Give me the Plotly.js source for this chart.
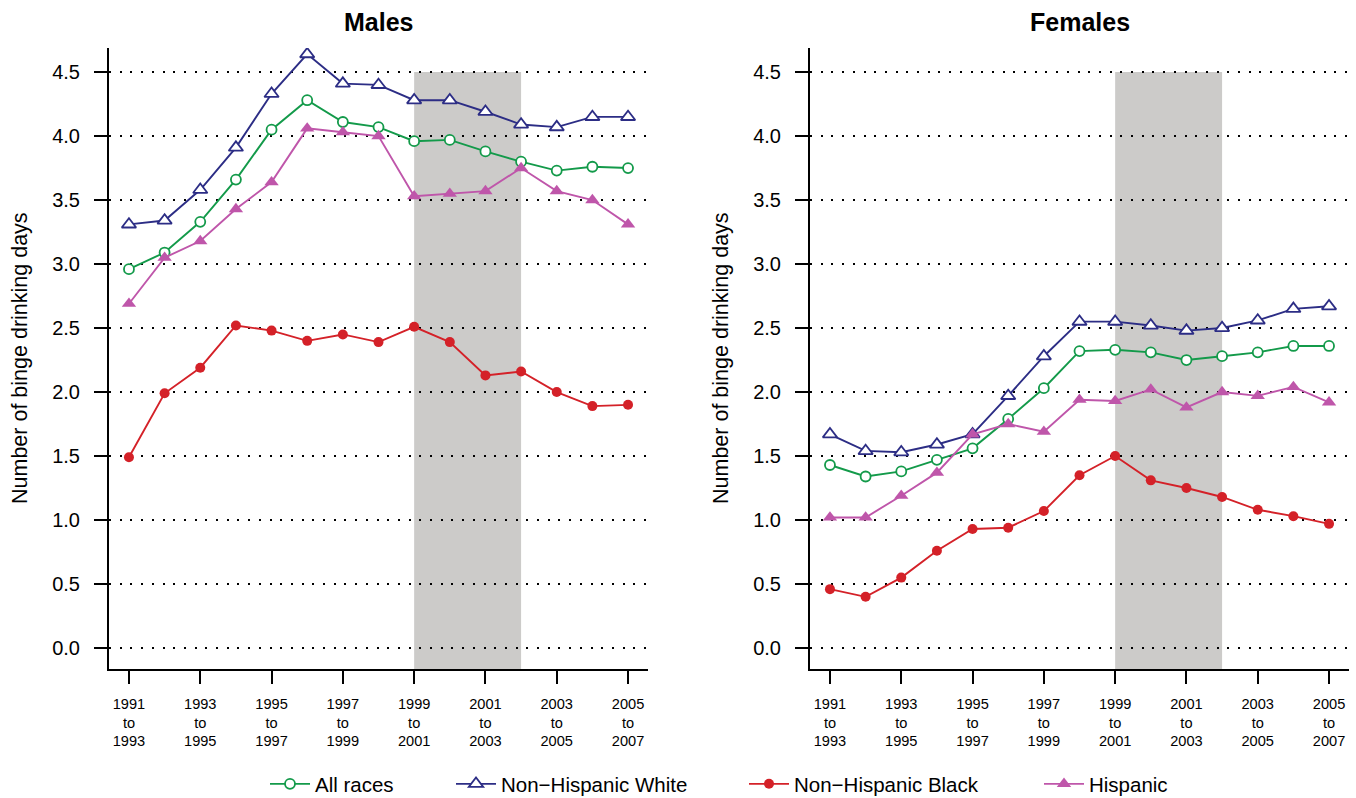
<!DOCTYPE html>
<html>
<head>
<meta charset="utf-8">
<script src="https://cdn.plot.ly/plotly-3.0.1.min.js"></script>
<style>
  html, body { margin: 0; padding: 0; background: #ffffff; }
  #chart { width: 1356px; height: 798px; }
</style>
</head>
<body>
<div id="chart"></div>
<script>
// ---- Data ----
const periods = ['1991 to 1993','1992 to 1994','1993 to 1995','1994 to 1996','1995 to 1997',
                 '1996 to 1998','1997 to 1999','1998 to 2000','1999 to 2001','2000 to 2002',
                 '2001 to 2003','2002 to 2004','2003 to 2005','2004 to 2006','2005 to 2007'];

const seriesNames = ['All races', 'Non\u2212Hispanic White', 'Non\u2212Hispanic Black', 'Hispanic'];

const malesAll   = [2.96, 3.09, 3.33, 3.66, 4.05, 4.28, 4.11, 4.07, 3.96, 3.97, 3.88, 3.80, 3.73, 3.76, 3.75];
const malesWhite = [3.31, 3.34, 3.58, 3.91, 4.33, 4.64, 4.41, 4.40, 4.28, 4.28, 4.19, 4.09, 4.07, 4.15, 4.15];
const malesBlack = [1.49, 1.99, 2.19, 2.52, 2.48, 2.40, 2.45, 2.39, 2.51, 2.39, 2.13, 2.16, 2.00, 1.89, 1.90];
const malesHisp  = [2.69, 3.05, 3.18, 3.43, 3.64, 4.06, 4.03, 4.00, 3.53, 3.55, 3.57, 3.75, 3.57, 3.50, 3.31];

const femalesAll   = [1.43, 1.34, 1.38, 1.47, 1.56, 1.79, 2.03, 2.32, 2.33, 2.31, 2.25, 2.28, 2.31, 2.36, 2.36];
const femalesWhite = [1.67, 1.54, 1.53, 1.59, 1.67, 1.97, 2.28, 2.55, 2.55, 2.52, 2.48, 2.50, 2.56, 2.65, 2.67];
const femalesBlack = [0.46, 0.40, 0.55, 0.76, 0.93, 0.94, 1.07, 1.35, 1.50, 1.31, 1.25, 1.18, 1.08, 1.03, 0.97];
const femalesHisp  = [1.02, 1.02, 1.19, 1.37, 1.67, 1.75, 1.69, 1.94, 1.93, 2.02, 1.88, 2.00, 1.97, 2.04, 1.92];

const panelTitles = ['Males', 'Females'];
const yTitle = 'Number of binge drinking days';
const shadeStart = '1999 to 2001';
const shadeEnd   = '2002 to 2004';
const shadeTop = 4.5;

// ---- Styling ----
const FONT = 'Liberation Sans, Arial, Helvetica, sans-serif';
const W = 1356, H = 798;
const colors = ['#139a4a', '#2c2d85', '#d42128', '#bf56aa'];
const symbols = ['circle', 'triangle-up', 'circle', 'triangle-up'];
const hollow = [true, true, false, false];
const msizes = [10, 12.5, 10, 12.5];

const tickVals = periods.filter((p, i) => i % 2 === 0);
const tickText = tickVals.map(p => p.split(' ').join('<br>'));

const panels = [
  { data: [malesAll, malesWhite, malesBlack, malesHisp], xa: 'x', ya: 'y', left: 109, right: 648 },
  { data: [femalesAll, femalesWhite, femalesBlack, femalesHisp], xa: 'x2', ya: 'y2', left: 810, right: 1349 }
];
const plotTop = 48, plotBottom = 669;
const legendNames = ['legend', 'legend2', 'legend3', 'legend4'];

const traces = [];
panels.forEach((p, pi) => {
  p.data.forEach((vals, si) => {
    traces.push({
      type: 'scatter', mode: 'lines+markers',
      x: periods, y: vals, xaxis: p.xa, yaxis: p.ya,
      name: seriesNames[si],
      legend: legendNames[si],
      showlegend: pi === 0,
      line: { color: colors[si], width: 1.9 },
      marker: { symbol: symbols[si], size: msizes[si], color: hollow[si] ? '#ffffff' : colors[si],
                line: { color: colors[si], width: hollow[si] ? 1.8 : 0 } },
      hoverinfo: 'x+y'
    });
  });
});

function xAxis(p) {
  return {
    type: 'category', domain: [p.left / W, p.right / W], range: [-0.56, 14.56],
    showline: true, linecolor: '#000', linewidth: 2, mirror: false,
    ticks: 'outside', ticklen: 13, tickwidth: 2, tickcolor: '#000',
    tickmode: 'array', tickvals: tickVals, ticktext: tickText,
    tickfont: { family: FONT, size: 14.6, color: '#000' }, tickangle: 0,
    ticklabelstandoff: 7, automargin: false,
    showgrid: false, zeroline: false, fixedrange: true
  };
}
function yAxis(xa) {
  return {
    domain: [1 - plotBottom / H, 1 - plotTop / H], range: [-0.164, 4.688], anchor: xa,
    showline: true, linecolor: '#000', linewidth: 2,
    ticks: 'outside', ticklen: 13, tickwidth: 2, tickcolor: '#000',
    tickmode: 'linear', tick0: 0, dtick: 0.5, tickformat: '.1f',
    tickfont: { family: FONT, size: 20, color: '#000' },
    ticklabelstandoff: 10, automargin: false,
    showgrid: true, gridcolor: '#000', gridwidth: 1.3, griddash: '2px,8.7px',
    zeroline: false, fixedrange: true
  };
}

const annotations = [];
panels.forEach((p, pi) => {
  annotations.push({
    xref: 'paper', yref: 'paper', x: (p.left + p.right) / 2 / W, y: 1 - 22 / H,
    text: '<b>' + panelTitles[pi] + '</b>', showarrow: false,
    font: { family: FONT, size: 25, color: '#000' }, xanchor: 'center', yanchor: 'middle'
  });
  annotations.push({
    xref: 'paper', yref: 'paper', x: (p.left - 89) / W, y: 1 - 358 / H,
    text: yTitle, textangle: -90, showarrow: false,
    font: { family: FONT, size: 21.5, color: '#000' }, xanchor: 'center', yanchor: 'middle'
  });
});

const shapes = panels.map(p => ({
  type: 'rect', xref: p.xa, yref: p.ya, x0: shadeStart, x1: shadeEnd, y0: -0.164, y1: shadeTop,
  fillcolor: '#cccbc9', line: { width: 0 }, layer: 'below'
}));

const legendX = [256, 442, 735, 1030];
const legendCommon = {
  orientation: 'h', xref: 'container', yref: 'container',
  xanchor: 'left', yanchor: 'middle', y: 1 - 784 / H,
  font: { family: FONT, size: 20.5, color: '#000' }, bgcolor: 'rgba(0,0,0,0)',
  borderwidth: 0, itemwidth: 40, itemclick: false, itemdoubleclick: false
};

const layout = {
  width: W, height: H,
  margin: { l: 0, r: 0, t: 0, b: 0, autoexpand: false },
  paper_bgcolor: '#ffffff', plot_bgcolor: '#ffffff',
  font: { family: FONT, color: '#000' },
  xaxis: xAxis(panels[0]), yaxis: yAxis('x'),
  xaxis2: xAxis(panels[1]), yaxis2: yAxis('x2'),
  annotations: annotations,
  shapes: shapes
};
legendNames.forEach((ln, i) => {
  layout[ln] = Object.assign({}, legendCommon, { x: (legendX[i] + 9) / W });
});

Plotly.newPlot('chart', traces, layout, { displayModeBar: false, staticPlot: true });
</script>
</body>
</html>
